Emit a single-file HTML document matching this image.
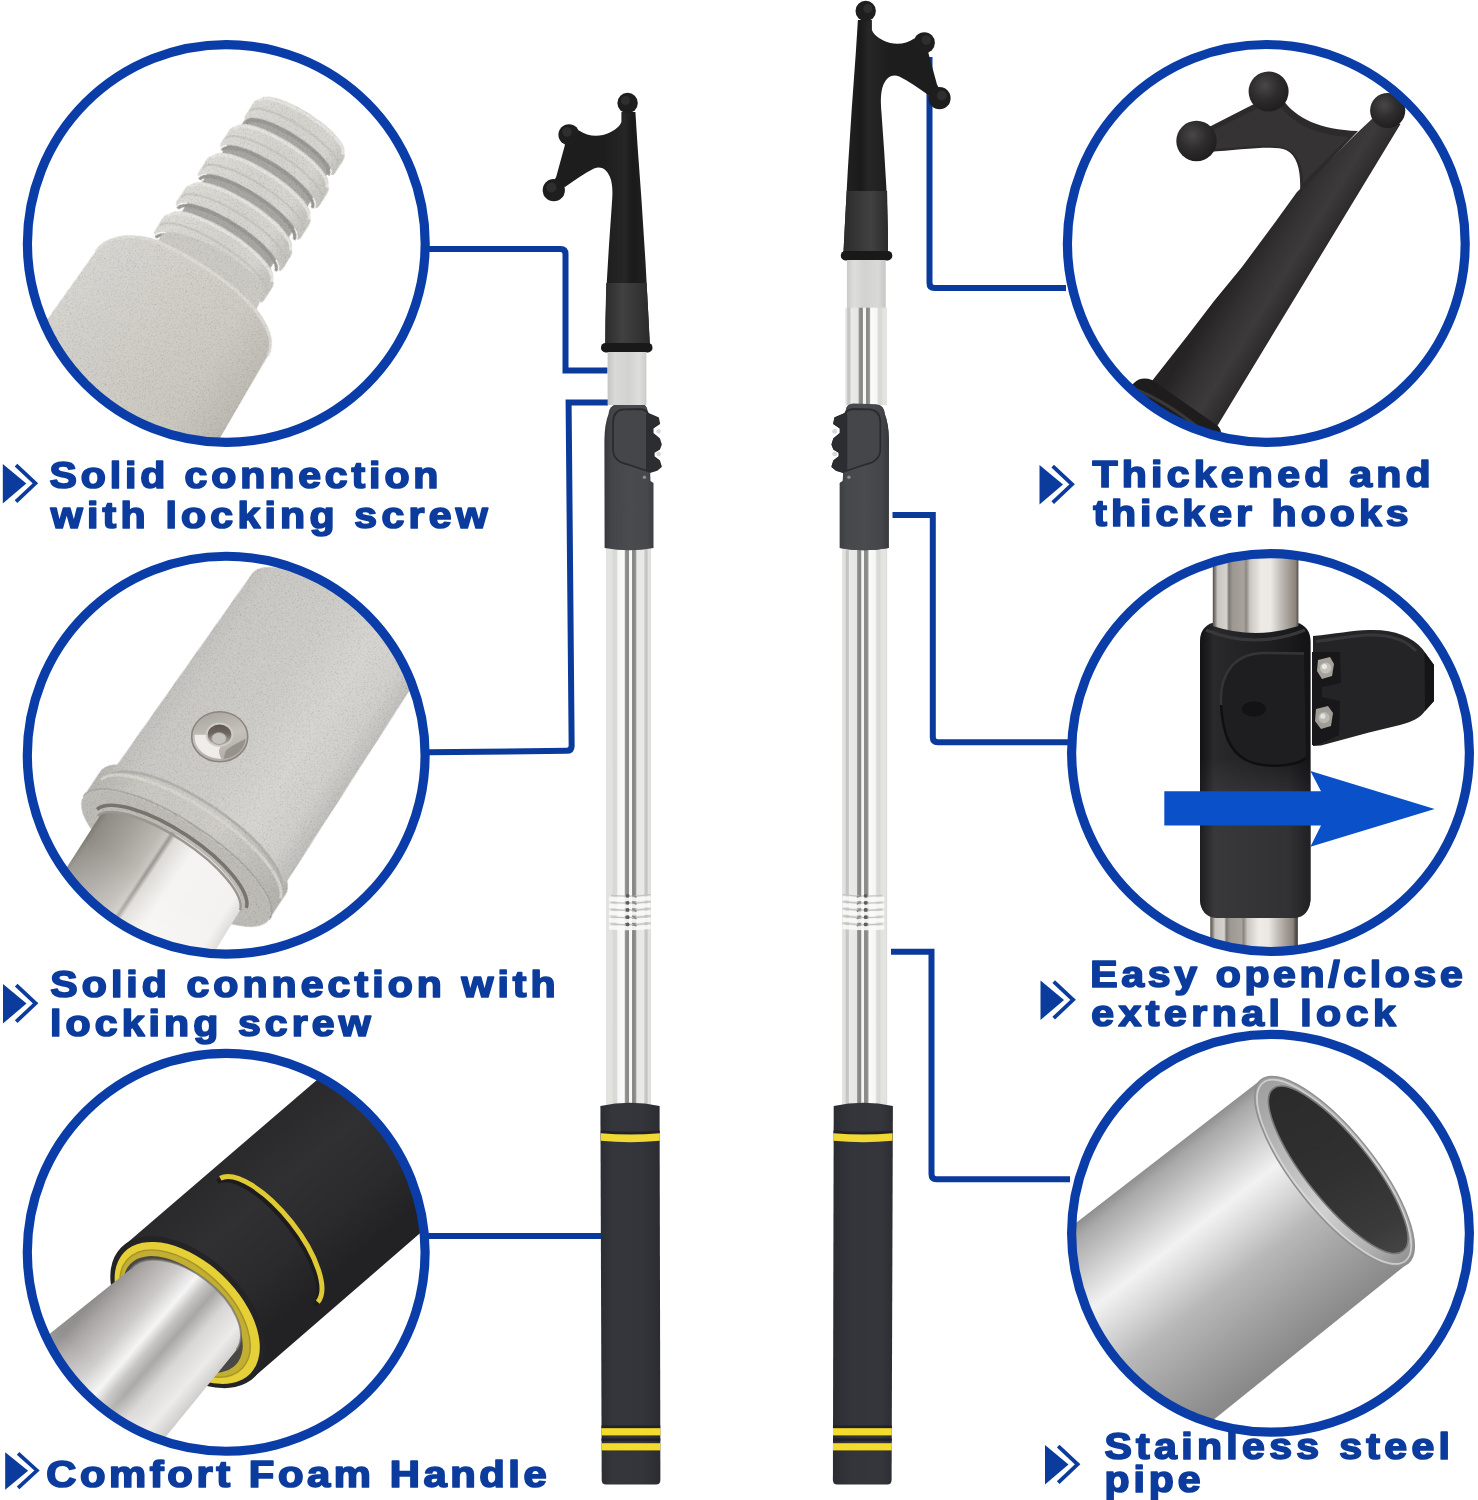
<!DOCTYPE html>
<html>
<head>
<meta charset="utf-8">
<title>Telescoping Boat Hook Features</title>
<style>
html,body{margin:0;padding:0;background:#fff;}
body{width:1478px;height:1500px;overflow:hidden;font-family:"Liberation Sans",sans-serif;}
svg{display:block;}
.t{font-family:"Liberation Sans",sans-serif;font-weight:bold;font-size:37px;fill:#0b3c9d;stroke:#0b3c9d;stroke-width:1.7px;stroke-linejoin:round;}
.ln{fill:none;stroke:#0a3b9c;stroke-width:6;}
.ring{fill:none;stroke:#0b3da8;stroke-width:9.2;}
.ic{fill:#0b3c9d;}
.ics{fill:none;stroke:#0b3c9d;stroke-width:3.8;}
</style>
</head>
<body>
<svg width="1478" height="1500" viewBox="0 0 1478 1500">
<defs>
  <!-- steel pole gradient (left pole x 606.4 - 651.3) -->
  <linearGradient id="gPole" gradientUnits="userSpaceOnUse" x1="606" y1="0" x2="651.6" y2="0">
    <stop offset="0" stop-color="#d2d2cf"/>
    <stop offset="0.03" stop-color="#e4e4e0"/>
    <stop offset="0.13" stop-color="#e2e2de"/>
    <stop offset="0.165" stop-color="#d8d8d4"/>
    <stop offset="0.23" stop-color="#dadad6"/>
    <stop offset="0.263" stop-color="#f6f6f4"/>
    <stop offset="0.40" stop-color="#fbfbf9"/>
    <stop offset="0.425" stop-color="#9a9a98"/>
    <stop offset="0.46" stop-color="#888886"/>
    <stop offset="0.50" stop-color="#8e8e8c"/>
    <stop offset="0.513" stop-color="#f4f4f2"/>
    <stop offset="0.56" stop-color="#f8f8f6"/>
    <stop offset="0.58" stop-color="#8c8c8a"/>
    <stop offset="0.614" stop-color="#838381"/>
    <stop offset="0.654" stop-color="#9a9a98"/>
    <stop offset="0.675" stop-color="#e6e6e4"/>
    <stop offset="0.83" stop-color="#eaeae8"/>
    <stop offset="0.853" stop-color="#c8c8c6"/>
    <stop offset="0.903" stop-color="#c4c4c2"/>
    <stop offset="0.925" stop-color="#e2e2e0"/>
    <stop offset="0.974" stop-color="#e0e0de"/>
    <stop offset="1" stop-color="#cdcdcb"/>
  </linearGradient>
  <linearGradient id="gHook" gradientUnits="userSpaceOnUse" x1="604" y1="0" x2="650" y2="0">
    <stop offset="0" stop-color="#1d1d1e"/>
    <stop offset="0.45" stop-color="#262627"/>
    <stop offset="0.62" stop-color="#1a1a1b"/>
    <stop offset="1" stop-color="#222223"/>
  </linearGradient>
  <linearGradient id="gHookLow" gradientUnits="userSpaceOnUse" x1="604" y1="0" x2="650" y2="0">
    <stop offset="0" stop-color="#2a2a2b"/>
    <stop offset="0.4" stop-color="#414142"/>
    <stop offset="0.6" stop-color="#3a3a3b"/>
    <stop offset="1" stop-color="#2b2b2c"/>
  </linearGradient>
  <linearGradient id="gGrey" gradientUnits="userSpaceOnUse" x1="607" y1="0" x2="647" y2="0">
    <stop offset="0" stop-color="#c4c4c3"/>
    <stop offset="0.2" stop-color="#d9d9d8"/>
    <stop offset="0.55" stop-color="#d2d2d1"/>
    <stop offset="0.8" stop-color="#dededd"/>
    <stop offset="1" stop-color="#c9c9c8"/>
  </linearGradient>
  <linearGradient id="gLock" gradientUnits="userSpaceOnUse" x1="604" y1="0" x2="654" y2="0">
    <stop offset="0" stop-color="#37383b"/>
    <stop offset="0.15" stop-color="#444549"/>
    <stop offset="0.5" stop-color="#4a4b4f"/>
    <stop offset="0.85" stop-color="#47484c"/>
    <stop offset="1" stop-color="#3d3e42"/>
  </linearGradient>
  <linearGradient id="gFoam" gradientUnits="userSpaceOnUse" x1="600" y1="0" x2="661" y2="0">
    <stop offset="0" stop-color="#2c2d33"/>
    <stop offset="0.2" stop-color="#35363c"/>
    <stop offset="0.7" stop-color="#34353b"/>
    <stop offset="1" stop-color="#2b2c31"/>
  </linearGradient>

  <!-- The hook head + grey adapter (left-pole coordinates) -->
  <g id="hook">
    <path d="M621.4,112 L621.4,122 C619,128 612,132.5 603,135 C594,137 586,135 579,130.5
             L565.2,144 L556.3,176.5 L553,183 L565,187
             C575,180 585,173 594,168.5 C602,165.5 608,170 611,180 C613,188 612.5,195 611.8,205
             L609,245 L606.6,285 L605.5,320 L605.3,344 L649.8,344 L648.6,320 L645.5,262 L641.5,200 L637.5,145 L635.4,112 Z" fill="url(#gHook)"/>
    <path d="M606.2,283 L605.5,320 L605.3,344 L649.8,344 L648.6,320 L646.6,283 Z" fill="url(#gHookLow)"/>
    <circle cx="627.6" cy="103" r="10.2" fill="#1e1e1f"/>
    <circle cx="569" cy="134.8" r="10.6" fill="#1e1e1f"/>
    <circle cx="553.8" cy="190.2" r="11.1" fill="#1e1e1f"/>
    <circle cx="625.5" cy="100.5" r="4.5" fill="#2e2e2f"/>
    <circle cx="567" cy="132" r="4.8" fill="#2e2e2f"/>
    <circle cx="551.5" cy="187.5" r="5" fill="#2e2e2f"/>
    <rect x="601" y="343" width="51.5" height="9.4" rx="4.5" fill="#19191a"/>
    <rect x="607.6" y="352" width="38.8" height="53" fill="url(#gGrey)"/>
  </g>

  <!-- lower pole: lock, steel tube, rings, foam handle (left-pole coordinates) -->
  <g id="lower">
    <rect x="606.2" y="545" width="44.8" height="560" fill="url(#gPole)"/>
    <!-- knurl rings -->
    <g fill="none">
      <path d="M609,898.8 Q629,900.4 650.6,898.2" stroke="#fafaf8" stroke-width="4.2" opacity="0.9"/>
      <path d="M609,905.8 Q629,907.4 650.6,905.2" stroke="#fafaf8" stroke-width="4.2" opacity="0.9"/>
      <path d="M609,912.9 Q629,914.5 650.6,912.3" stroke="#fafaf8" stroke-width="4.2" opacity="0.9"/>
      <path d="M609,920.2 Q629,921.8 650.6,919.6" stroke="#fafaf8" stroke-width="4.2" opacity="0.9"/>
      <path d="M609,927.4 Q629,929.0 650.6,926.8" stroke="#fafaf8" stroke-width="4.2" opacity="0.9"/>
      <path d="M611,895.4 Q629,897.2 650.6,894.6" stroke="#c4c4c1" stroke-width="1.3"/>
      <circle cx="627.6" cy="895.8" r="1.9" fill="#5d5d5b"/>
      <path d="M632.5,894.8 L636.5,897.4" stroke="#8a8a88" stroke-width="1.6"/>
      <path d="M611,902.4 Q629,904.2 650.6,901.6" stroke="#c4c4c1" stroke-width="1.3"/>
      <circle cx="627.6" cy="902.8" r="1.9" fill="#5d5d5b"/>
      <path d="M632.5,901.8 L636.5,904.4" stroke="#8a8a88" stroke-width="1.6"/>
      <path d="M611,909.5 Q629,911.3 650.6,908.7" stroke="#c4c4c1" stroke-width="1.3"/>
      <circle cx="627.6" cy="909.9" r="1.9" fill="#5d5d5b"/>
      <path d="M632.5,908.9 L636.5,911.5" stroke="#8a8a88" stroke-width="1.6"/>
      <path d="M611,916.8 Q629,918.6 650.6,916.0" stroke="#c4c4c1" stroke-width="1.3"/>
      <circle cx="627.6" cy="917.2" r="1.9" fill="#5d5d5b"/>
      <path d="M632.5,916.2 L636.5,918.8" stroke="#8a8a88" stroke-width="1.6"/>
      <path d="M611,924.0 Q629,925.8 650.6,923.2" stroke="#c4c4c1" stroke-width="1.3"/>
      <circle cx="627.6" cy="924.4" r="1.9" fill="#5d5d5b"/>
      <path d="M632.5,923.4 L636.5,926.0" stroke="#8a8a88" stroke-width="1.6"/>
    </g>
    <g id="lockonly">
    <!-- lock body -->
    <path d="M608.5,414 Q609,405.5 617,404.3 L640,403.6 Q646.5,404 647.5,410 L650.5,481 L653.5,483 L653.5,548 Q630,552.5 604.6,548 L604.4,440 Q604.6,424 608.5,414 Z" fill="url(#gLock)"/>
    <!-- lever -->
    <path d="M613,422 Q613.2,410 624,409.4 L640,409 Q646,409.5 648.2,413.7 L658.1,418.1 L659.2,423.6 L652.6,428 L652.6,433.5 L659.2,439 L660.9,444.5 L659.2,448.9 L653.7,452.2 L653.7,456.6 L659.2,461 L660.9,466.5 L657,469.8 L650.4,472 L628,464.5 Q613.5,461.5 613,450 Z" fill="#45464a" stroke="#2a2b2e" stroke-width="1.8" stroke-linejoin="round"/>
    <path d="M648.2,413.7 L658.1,418.1 L659.2,423.6 L652.6,428 L652.6,433.5 L659.2,439 L660.9,444.5 L659.2,448.9 L653.7,452.2 L653.7,456.6 L659.2,461 L660.9,466.5 L657,469.8 L650.4,472 L646,470 L646,414 Z" fill="#2c2d30"/>
    <circle cx="658.6" cy="431.2" r="2.3" fill="#d9d9d9"/>
    <circle cx="658.6" cy="454" r="2.3" fill="#d9d9d9"/>
    <circle cx="644.4" cy="477.2" r="1.7" fill="#8d8e91"/>
    </g>
    <!-- foam handle -->
    <path d="M600.4,1106 Q630,1099.5 659.6,1106 L660.4,1480 Q660.4,1484.5 656,1484.5 L606,1484.5 Q601.8,1484.5 601.7,1480 Z" fill="url(#gFoam)"/>
    <path d="M600.8,1130.4 Q630,1133.2 659.8,1130.4 L659.8,1133.4 Q630,1136.2 600.8,1133.4 Z" fill="#222328"/>
    <path d="M600.8,1133.2 Q630,1136 659.8,1133.2 L659.8,1140.8 Q630,1143.6 600.8,1140.8 Z" fill="#f0d835"/>
    <rect x="601.5" y="1425.4" width="58.8" height="2.6" fill="#222328"/>
    <rect x="601.5" y="1428.2" width="58.8" height="7.2" fill="#f5dc2a"/>
    <rect x="601.5" y="1438.4" width="58.8" height="2.4" fill="#1f2025"/>
    <rect x="601.5" y="1443.2" width="58.8" height="7.2" fill="#f5dc2a"/>
  </g>


  <!-- L1 thread gradients (local coords) -->
  <linearGradient id="gBody1" gradientUnits="userSpaceOnUse" x1="-125" y1="0" x2="105" y2="0">
    <stop offset="0" stop-color="#d9d7d2"/>
    <stop offset="0.25" stop-color="#d3d1cc"/>
    <stop offset="0.55" stop-color="#cfccc5"/>
    <stop offset="0.8" stop-color="#cbc8c0"/>
    <stop offset="1" stop-color="#bdbab3"/>
  </linearGradient>
  <linearGradient id="gBody1v" gradientUnits="userSpaceOnUse" x1="0" y1="-30" x2="0" y2="260">
    <stop offset="0" stop-color="#ffffff" stop-opacity="0.10"/>
    <stop offset="0.5" stop-color="#ffffff" stop-opacity="0"/>
    <stop offset="1" stop-color="#b9a97c" stop-opacity="0.22"/>
  </linearGradient>
  <linearGradient id="gRidge" gradientUnits="userSpaceOnUse" x1="-48" y1="0" x2="66" y2="0">
    <stop offset="0" stop-color="#dedcd7"/>
    <stop offset="0.5" stop-color="#d6d4cf"/>
    <stop offset="0.85" stop-color="#d9d7d2"/>
    <stop offset="1" stop-color="#c9c7c2"/>
  </linearGradient>


  <!-- L2 sleeve gradients (local coords) -->
  <linearGradient id="gSleeve" gradientUnits="userSpaceOnUse" x1="-104" y1="0" x2="104" y2="0">
    <stop offset="0" stop-color="#c2c1bd"/>
    <stop offset="0.12" stop-color="#cbcac6"/>
    <stop offset="0.45" stop-color="#cfceca"/>
    <stop offset="0.7" stop-color="#d8d7d3"/>
    <stop offset="0.88" stop-color="#d2d1cd"/>
    <stop offset="1" stop-color="#bfbeba"/>
  </linearGradient>
  <linearGradient id="gCollar" gradientUnits="userSpaceOnUse" x1="-114" y1="0" x2="110" y2="0">
    <stop offset="0" stop-color="#b9b7b2"/>
    <stop offset="0.2" stop-color="#cbc9c4"/>
    <stop offset="0.6" stop-color="#d0cec9"/>
    <stop offset="1" stop-color="#b5b3ae"/>
  </linearGradient>
  <linearGradient id="gTube2" gradientUnits="userSpaceOnUse" x1="-90" y1="0" x2="86" y2="0">
    <stop offset="0" stop-color="#7b7771"/>
    <stop offset="0.04" stop-color="#8f8b85"/>
    <stop offset="0.2" stop-color="#a5a19b"/>
    <stop offset="0.34" stop-color="#bcb8b2"/>
    <stop offset="0.385" stop-color="#c9c6c1"/>
    <stop offset="0.405" stop-color="#9a9691"/>
    <stop offset="0.43" stop-color="#dcdad6"/>
    <stop offset="0.56" stop-color="#f5f4f2"/>
    <stop offset="0.9" stop-color="#f3f2f0"/>
    <stop offset="1" stop-color="#d6d4d0"/>
  </linearGradient>
  <linearGradient id="gTube2fade" gradientUnits="userSpaceOnUse" x1="0" y1="60" x2="0" y2="190">
    <stop offset="0" stop-color="#ffffff" stop-opacity="0"/>
    <stop offset="1" stop-color="#ffffff" stop-opacity="0.55"/>
  </linearGradient>
  <radialGradient id="gScrew" cx="0.45" cy="0.4" r="0.6">
    <stop offset="0" stop-color="#d8d5d0"/>
    <stop offset="0.6" stop-color="#bab6b0"/>
    <stop offset="1" stop-color="#8f8b85"/>
  </radialGradient>


  <!-- L3 foam handle close-up -->
  <linearGradient id="gFoam3" gradientUnits="userSpaceOnUse" x1="230" y1="1150" x2="335" y2="1275">
    <stop offset="0" stop-color="#29292b"/>
    <stop offset="0.35" stop-color="#303033"/>
    <stop offset="0.7" stop-color="#2b2b2e"/>
    <stop offset="1" stop-color="#222224"/>
  </linearGradient>
  <linearGradient id="gTube3" gradientUnits="userSpaceOnUse" x1="88" y1="1306" x2="196" y2="1400">
    <stop offset="0" stop-color="#8d8b89"/>
    <stop offset="0.10" stop-color="#a7a4a2"/>
    <stop offset="0.30" stop-color="#cdcbc9"/>
    <stop offset="0.44" stop-color="#f5f5f5"/>
    <stop offset="0.52" stop-color="#c6c4c2"/>
    <stop offset="0.60" stop-color="#a9a7a5"/>
    <stop offset="0.72" stop-color="#d9d7d5"/>
    <stop offset="0.88" stop-color="#ecebe9"/>
    <stop offset="1" stop-color="#cfcdcb"/>
  </linearGradient>
  <linearGradient id="gTube3fade" gradientUnits="userSpaceOnUse" x1="170" y1="1330" x2="60" y2="1440">
    <stop offset="0" stop-color="#ffffff" stop-opacity="0"/>
    <stop offset="0.5" stop-color="#ffffff" stop-opacity="0.05"/>
    <stop offset="1" stop-color="#ffffff" stop-opacity="0.5"/>
  </linearGradient>


  <!-- R1 big hook -->
  <linearGradient id="gHookBig" gradientUnits="userSpaceOnUse" x1="1228" y1="282" x2="1296" y2="324">
    <stop offset="0" stop-color="#262324"/>
    <stop offset="0.3" stop-color="#353233"/>
    <stop offset="0.55" stop-color="#3d3a3b"/>
    <stop offset="0.8" stop-color="#2e2b2c"/>
    <stop offset="1" stop-color="#242122"/>
  </linearGradient>
  <radialGradient id="gBall" cx="0.4" cy="0.35" r="0.7">
    <stop offset="0" stop-color="#4a4748"/>
    <stop offset="0.5" stop-color="#2f2c2d"/>
    <stop offset="1" stop-color="#1f1c1d"/>
  </radialGradient>


  <!-- R2 lock close-up -->
  <linearGradient id="gTubeR2" gradientUnits="userSpaceOnUse" x1="1212.5" y1="0" x2="1298.5" y2="0">
    <stop offset="0" stop-color="#4a4642"/>
    <stop offset="0.035" stop-color="#8f8a85"/>
    <stop offset="0.06" stop-color="#c9c5c0"/>
    <stop offset="0.165" stop-color="#d5d1cc"/>
    <stop offset="0.19" stop-color="#7d7873"/>
    <stop offset="0.235" stop-color="#9d9892"/>
    <stop offset="0.365" stop-color="#a8a39d"/>
    <stop offset="0.39" stop-color="#8b8680"/>
    <stop offset="0.435" stop-color="#c9c5c0"/>
    <stop offset="0.565" stop-color="#eeebe7"/>
    <stop offset="0.675" stop-color="#ece9e5"/>
    <stop offset="0.805" stop-color="#bdb8b2"/>
    <stop offset="0.895" stop-color="#a09a93"/>
    <stop offset="0.965" stop-color="#8a847d"/>
    <stop offset="1" stop-color="#4e4a46"/>
  </linearGradient>
  <linearGradient id="gLockR2" gradientUnits="userSpaceOnUse" x1="1199" y1="0" x2="1311" y2="0">
    <stop offset="0" stop-color="#151517"/>
    <stop offset="0.12" stop-color="#2a2a2c"/>
    <stop offset="0.35" stop-color="#242426"/>
    <stop offset="0.7" stop-color="#1d1d1f"/>
    <stop offset="1" stop-color="#161618"/>
  </linearGradient>


  <!-- R3 pipe close-up -->
  <linearGradient id="gPipe3" gradientUnits="userSpaceOnUse" x1="1150" y1="1165.5" x2="1294" y2="1351">
    <stop offset="0" stop-color="#8f8f8f"/>
    <stop offset="0.05" stop-color="#a8a8a8"/>
    <stop offset="0.2" stop-color="#d0d0d0"/>
    <stop offset="0.33" stop-color="#f2f2f2"/>
    <stop offset="0.45" stop-color="#d9d9d9"/>
    <stop offset="0.6" stop-color="#b8b8b8"/>
    <stop offset="0.8" stop-color="#a0a0a0"/>
    <stop offset="1" stop-color="#8a8a8a"/>
  </linearGradient>
  <linearGradient id="gPipeRim" gradientUnits="userSpaceOnUse" x1="-119" y1="0" x2="119" y2="0">
    <stop offset="0" stop-color="#9d9d9d"/>
    <stop offset="0.3" stop-color="#b9b9b9"/>
    <stop offset="0.6" stop-color="#d0d0d0"/>
    <stop offset="0.85" stop-color="#b0b0b0"/>
    <stop offset="1" stop-color="#8e8e8e"/>
  </linearGradient>
  <linearGradient id="gPipeIn" gradientUnits="userSpaceOnUse" x1="-100" y1="-20" x2="100" y2="20">
    <stop offset="0" stop-color="#2b2b2b"/>
    <stop offset="0.5" stop-color="#303030"/>
    <stop offset="0.85" stop-color="#3a3a3a"/>
    <stop offset="1" stop-color="#454545"/>
  </linearGradient>


  <!-- cast-metal / foam grain -->
  <filter id="grain" x="-5%" y="-5%" width="110%" height="110%" color-interpolation-filters="sRGB">
    <feTurbulence type="fractalNoise" baseFrequency="0.7" numOctaves="2" seed="7" result="noise"/>
    <feColorMatrix in="noise" type="matrix" values="0.34 0.33 0.33 0 0  0.34 0.33 0.33 0 0  0.34 0.33 0.33 0 0  0 0 0 0 1" result="mono"/>
    <feComponentTransfer in="mono" result="mono2">
      <feFuncR type="linear" slope="0.6" intercept="0.69"/>
      <feFuncG type="linear" slope="0.6" intercept="0.69"/>
      <feFuncB type="linear" slope="0.6" intercept="0.69"/>
    </feComponentTransfer>
    <feBlend in="SourceGraphic" in2="mono2" mode="multiply" result="b"/>
    <feComposite in="b" in2="SourceGraphic" operator="in"/>
  </filter>


  <linearGradient id="gScrewA" x1="0.3" y1="0" x2="0.6" y2="1">
    <stop offset="0" stop-color="#aaa59f"/>
    <stop offset="0.5" stop-color="#c5c1bb"/>
    <stop offset="1" stop-color="#b0aba5"/>
  </linearGradient>
  <linearGradient id="gScrewB" x1="0.5" y1="0" x2="0.5" y2="1">
    <stop offset="0" stop-color="#5e564e"/>
    <stop offset="0.45" stop-color="#6f6860"/>
    <stop offset="1" stop-color="#b9b4ae"/>
  </linearGradient>


  <linearGradient id="gLockR2low" gradientUnits="userSpaceOnUse" x1="0" y1="755" x2="0" y2="800">
    <stop offset="0" stop-color="#454547" stop-opacity="0"/>
    <stop offset="1" stop-color="#454547" stop-opacity="0.55"/>
  </linearGradient>
  <linearGradient id="gLockR2edge" gradientUnits="userSpaceOnUse" x1="1199" y1="0" x2="1311" y2="0">
    <stop offset="0" stop-color="#101012" stop-opacity="0.75"/>
    <stop offset="0.14" stop-color="#101012" stop-opacity="0"/>
    <stop offset="0.8" stop-color="#101012" stop-opacity="0"/>
    <stop offset="1" stop-color="#101012" stop-opacity="0.6"/>
  </linearGradient>

  <!-- circle clips -->
  <clipPath id="cL1"><circle cx="226.3" cy="243.5" r="199.5"/></clipPath>
  <clipPath id="cL2"><circle cx="226.2" cy="755.15" r="199.5"/></clipPath>
  <clipPath id="cL3"><circle cx="226.2" cy="1252.35" r="199.5"/></clipPath>
  <clipPath id="cR1"><circle cx="1266.3" cy="243.4" r="199.5"/></clipPath>
  <clipPath id="cR2"><circle cx="1270.5" cy="752.6" r="199.5"/></clipPath>
  <clipPath id="cR3"><circle cx="1270.5" cy="1233.3" r="199.5"/></clipPath>

  <!-- bullet icon -->
  <g id="bul">
    <path d="M0,0 L0,39.5 L23.5,19.6 Z" class="ic"/>
    <path d="M13.2,1.2 L32.6,19.3 L13.2,37.6" class="ics"/>
  </g>
</defs>

<rect x="0" y="0" width="1478" height="1500" fill="#ffffff"/>

<!-- ============ CALLOUT LINES ============ -->
<path class="ln" d="M428,249 L560.5,249 Q565.5,249 565.5,254 L565.5,370.5 L607.5,370.5"/>
<path class="ln" d="M608,402.5 L568.6,402.5 L571.65,745.8 Q571.7,750.8 566.7,750.85 L428,752.2"/>
<path class="ln" d="M428,1236 L603,1236"/>
<path class="ln" d="M929.5,57 L929.5,283 Q929.5,288 934.5,288 L1066,288"/>
<path class="ln" d="M892.5,515 L932.8,515 L932.8,737.2 Q932.8,742.2 937.8,742.2 L1070,742.2"/>
<path class="ln" d="M891,951.7 L931.5,951.7 L931.5,1174.2 Q931.5,1179.2 936.5,1179.2 L1070,1179.2"/>

<!-- ============ POLES ============ -->
<g id="poleL">
  <use href="#lower"/>
  <use href="#hook"/>
</g>
<g id="poleR" transform="translate(1493.3,0) scale(-1,1)">
  <use href="#lower"/>
  <use href="#hook" transform="translate(0,-92)"/>
  <!-- exposed inner tube -->
  <g transform="translate(-1.6,0)"><rect x="607.9" y="307.7" width="41.6" height="97.5" fill="url(#gPole)"/></g>
  <use href="#lockonly"/>
</g>

<!-- ============ CIRCLE CONTENTS ============ -->
<g id="contL1" clip-path="url(#cL1)">
  <g transform="translate(186.75,287.65) rotate(30)" filter="url(#grain)">
    <!-- threaded stud -->
<g transform="rotate(2.5 12 -110)">
<path d="M-42,-20 L-36,-186 A49,15 0 0 1 62,-186 L66,-20 Z" fill="#aaa8a4"/>
<path d="M-53.0,-44.8 Q-53.0,-50.8 -49.0,-52.3 A61.0,17.6 0 0 1 73.0,-52.3 Q77.0,-50.8 77.0,-44.8 L77.0,-30.8 Q77.0,-26.8 74.0,-26.8 A62.0,17.6 0 0 0 -50.0,-26.8 Q-53.0,-26.8 -53.0,-30.8 Z" fill="url(#gRidge)"/>
<path d="M-49.0,-49.8 A61.0,17.6 0 0 1 73.0,-49.8" fill="none" stroke="#e8e6e1" stroke-width="3"/>
<path d="M-51.0,-36.8 A63.0,17.6 0 0 1 75.0,-36.8" fill="none" stroke="#c4c2bd" stroke-width="2" opacity="0.8"/>
<path d="M-48.0,-24.8 A60.0,17.6 0 0 1 72.0,-24.8" fill="none" stroke="#9b9995" stroke-width="3.5"/>
<path d="M-50.2,-81.2 Q-50.2,-87.2 -46.2,-88.7 A59.0,17.0 0 0 1 71.8,-88.7 Q75.8,-87.2 75.8,-81.2 L75.8,-67.2 Q75.8,-63.2 72.8,-63.2 A60.0,17.0 0 0 0 -47.2,-63.2 Q-50.2,-63.2 -50.2,-67.2 Z" fill="url(#gRidge)"/>
<path d="M-46.2,-86.2 A59.0,17.0 0 0 1 71.8,-86.2" fill="none" stroke="#e8e6e1" stroke-width="3"/>
<path d="M-48.2,-73.2 A61.0,17.0 0 0 1 73.8,-73.2" fill="none" stroke="#c4c2bd" stroke-width="2" opacity="0.8"/>
<path d="M-45.2,-61.2 A58.0,17.0 0 0 1 70.8,-61.2" fill="none" stroke="#9b9995" stroke-width="3.5"/>
<path d="M-47.5,-117.6 Q-47.5,-123.6 -43.5,-125.1 A57.0,16.5 0 0 1 70.5,-125.1 Q74.5,-123.6 74.5,-117.6 L74.5,-103.6 Q74.5,-99.6 71.5,-99.6 A58.0,16.5 0 0 0 -44.5,-99.6 Q-47.5,-99.6 -47.5,-103.6 Z" fill="url(#gRidge)"/>
<path d="M-43.5,-122.6 A57.0,16.5 0 0 1 70.5,-122.6" fill="none" stroke="#e8e6e1" stroke-width="3"/>
<path d="M-45.5,-109.6 A59.0,16.5 0 0 1 72.5,-109.6" fill="none" stroke="#c4c2bd" stroke-width="2" opacity="0.8"/>
<path d="M-42.5,-97.6 A56.0,16.5 0 0 1 69.5,-97.6" fill="none" stroke="#9b9995" stroke-width="3.5"/>
<path d="M-44.2,-154.0 Q-44.2,-160.0 -40.2,-161.5 A54.5,15.8 0 0 1 68.8,-161.5 Q72.8,-160.0 72.8,-154.0 L72.8,-140.0 Q72.8,-136.0 69.8,-136.0 A55.5,15.8 0 0 0 -41.2,-136.0 Q-44.2,-136.0 -44.2,-140.0 Z" fill="url(#gRidge)"/>
<path d="M-40.2,-159.0 A54.5,15.8 0 0 1 68.8,-159.0" fill="none" stroke="#e8e6e1" stroke-width="3"/>
<path d="M-42.2,-146.0 A56.5,15.8 0 0 1 70.8,-146.0" fill="none" stroke="#c4c2bd" stroke-width="2" opacity="0.8"/>
<path d="M-39.2,-134.0 A53.5,15.8 0 0 1 67.8,-134.0" fill="none" stroke="#9b9995" stroke-width="3.5"/>
<path d="M-38.5,-190.4 Q-38.5,-196.4 -34.5,-197.9 A49.5,14.4 0 0 1 64.5,-197.9 Q68.5,-196.4 68.5,-190.4 L68.5,-176.4 Q68.5,-172.4 65.5,-172.4 A50.5,14.4 0 0 0 -35.5,-172.4 Q-38.5,-172.4 -38.5,-176.4 Z" fill="url(#gRidge)"/>
<path d="M-34.5,-195.4 A49.5,14.4 0 0 1 64.5,-195.4" fill="none" stroke="#e8e6e1" stroke-width="3"/>
<path d="M-36.5,-182.4 A51.5,14.4 0 0 1 66.5,-182.4" fill="none" stroke="#c4c2bd" stroke-width="2" opacity="0.8"/>
<path d="M-33.5,-170.4 A48.5,14.4 0 0 1 63.5,-170.4" fill="none" stroke="#9b9995" stroke-width="3.5"/>
</g>

    <!-- neck -->
    <path d="M-48,-34 L-50,-10 L72,-10 L70,-30 A59,17 0 0 0 -48,-34 Z" fill="#cdcbc6"/>
    <!-- main body -->
    <path d="M-97,12 C-96,-4 -78,-22 -45,-27.5 C-12,-31 38,-29 70,-17 C92,-8 103,2 104.5,16 L103,330 L-128,330 L-110,150 Z" fill="url(#gBody1)"/>
    <path d="M-97,12 C-96,-4 -78,-22 -45,-27.5 C-12,-31 38,-29 70,-17 C92,-8 103,2 104.5,16 L103,330 L-128,330 L-110,150 Z" fill="url(#gBody1v)"/>
    <path d="M-97,14 C-96,-2 -78,-20 -45,-25.5 C-12,-29 38,-27 70,-15 C92,-6 103,4 104.5,18" fill="none" stroke="#e2e0db" stroke-width="3" opacity="0.8"/>
  </g>
</g>
<g id="contL2" clip-path="url(#cL2)">
  <g transform="translate(194.5,834.2) rotate(33.5)">
    <!-- collar bottom face (full ellipse) -->
    <g filter="url(#grain)"><ellipse cx="-2" cy="30" rx="111.5" ry="37" fill="#bfbdb8"/></g>
    <!-- steel tube -->
    <path d="M-89,36 A85,29 0 0 1 80,36 L92,400 L-84,400 Z" fill="url(#gTube2)"/>
    <path d="M-89,36 A85,29 0 0 1 80,36 L92,400 L-84,400 Z" fill="url(#gTube2fade)"/>
    <!-- inner rim (dark gap) -->
    <path d="M-95,33 A90,31 0 0 1 84,33" fill="none" stroke="#77736e" stroke-width="3.5"/>
    <path d="M-91,38 A86,29 0 0 1 80,38" fill="none" stroke="#9a9691" stroke-width="2.5"/>
    <g filter="url(#grain)">
    <!-- collar side band -->
    <path d="M-113.5,0 A111.5,37 0 0 1 109.5,0 L109.5,30 A111.5,37 0 0 0 -113.5,30 Z" fill="url(#gCollar)"/>
    <path d="M-113.5,30 A111.5,37 0 0 1 109.5,30" fill="none" stroke="#a9a7a2" stroke-width="2"/>
    <!-- sleeve -->
    <path d="M-103.5,2 L-96,-249 A98,33.5 0 0 1 100,-249 L103.5,2 A103.5,35 0 0 0 -103.5,2 Z" fill="url(#gSleeve)"/>
    <path d="M-103.5,2 A103.5,35 0 0 1 103.5,2" fill="none" stroke="#b3b1ac" stroke-width="2.5"/>
    <path d="M-108,6 A108,36 0 0 1 107,6" fill="none" stroke="#dad8d3" stroke-width="3" opacity="0.9"/>
    </g>
  </g>
  <!-- locking screw -->
  <g transform="translate(219.7,736.7)">
    <ellipse cx="0" cy="0" rx="28" ry="25" fill="url(#gScrewA)"/>
    <ellipse cx="0" cy="0" rx="28" ry="25" fill="none" stroke="#8a857f" stroke-width="1.6"/>
    <path d="M-25,-2 C-26,12 -14,22 2,22 C-2,16 -2,10 6,6 L-10,-2 Z" fill="#f3f1ee" opacity="0.92"/>
    <path d="M4,22 C16,21 25,12 26,2 C18,6 10,10 6,14 Z" fill="#8f8a84" opacity="0.8"/>
    <ellipse cx="-0.2" cy="-2" rx="13.8" ry="12.2" fill="#cfcbc6"/>
    <ellipse cx="-0.2" cy="-2" rx="11.8" ry="10.2" fill="url(#gScrewB)"/>
    <ellipse cx="-0.7" cy="1.8" rx="7.4" ry="6" fill="#c6c2bd"/>
    <ellipse cx="-0.7" cy="1.8" rx="7.4" ry="6" fill="none" stroke="#9c9791" stroke-width="0.8"/>
  </g>
</g>
<g id="contL3" clip-path="url(#cL3)">
  <!-- foam body -->
  <path d="M120.9,1248.2 L360,1043 L470,1190 L254.9,1376.2 Z" fill="url(#gFoam3)"/>
  <!-- end face -->
  <g transform="translate(187.9,1312.2) rotate(43.7)">
    <ellipse cx="0" cy="0" rx="93" ry="56" fill="#242426"/>
    <ellipse cx="0" cy="1" rx="87.5" ry="51.5" fill="#e6d038"/>
    <ellipse cx="-1" cy="3" rx="79" ry="45" fill="#c2ae30"/>
    <ellipse cx="-1" cy="3" rx="79" ry="45" fill="none" stroke="#a8962a" stroke-width="1.5"/>
    <ellipse cx="-2" cy="5" rx="73" ry="40.5" fill="#4a4844"/>
  </g>
  <!-- steel tube -->
  <path d="M130.7,1269 A66.6,37.5 37.4 0 1 236.5,1349.9 L140,1468.4 L20,1357.5 Z" fill="url(#gTube3)"/>
  <path d="M130.7,1269 A66.6,37.5 37.4 0 1 236.5,1349.9 L140,1468.4 L20,1357.5 Z" fill="url(#gTube3fade)"/>
  <path d="M130.7,1269 A66.6,37.5 37.4 0 1 236.5,1349.9" fill="none" stroke="#6f6d6a" stroke-width="2" opacity="0.7"/>
  <!-- yellow stripe -->
  <path d="M217.5,1181.5 A79,31 51.8 0 1 315,1305.3" fill="none" stroke="#1c1c1e" stroke-width="5"/>
  <path d="M220.3,1178.3 A79,31 51.8 0 1 317.8,1302.1" fill="none" stroke="#e0ca34" stroke-width="5"/>
</g>
<g id="contR1" clip-path="url(#cR1)">
  <!-- shaft -->
  <path d="M1373,118 L1357,133 L1297,192 L1276.6,220.3 L1242,267 L1213.7,301.5 L1187.3,336 L1148,386 L1210,438 L1400.5,124 Z" fill="url(#gHookBig)"/>
  <!-- web -->
  <path d="M1209,127 L1256,103 L1283,100 C1296,118 1320,130 1358,131 L1300,192 C1301,172 1298,156 1286,150 C1274,145 1240,150 1209,152 Z" fill="#2d2a2b"/>
  <path d="M1214,130 L1257,108.5 L1280,106 C1294,124 1316,135 1349,137 L1303,183 C1303,168 1299,155 1288,149 C1276,143 1242,147 1214,149 Z" fill="#363334"/>
  <!-- flange at bottom -->
  <path d="M1134,383 Q1141,376 1152,380 L1218,426 Q1224,432 1219,439 L1205,452 L1118,397 Z" fill="#1f1c1d"/>
  <path d="M1132,388 Q1170,402 1213,440" fill="none" stroke="#3a3738" stroke-width="3"/>
  <!-- balls -->
  <circle cx="1268.6" cy="91.5" r="20" fill="url(#gBall)"/>
  <circle cx="1196.5" cy="141" r="20.2" fill="url(#gBall)"/>
  <circle cx="1387.7" cy="110.5" r="17.6" fill="url(#gBall)"/>
</g>
<g id="contR2" clip-path="url(#cR2)">
  <!-- tube above and below -->
  <g transform="translate(-2.5,0)"><rect x="1212.8" y="905" width="87.6" height="60" fill="url(#gTubeR2)"/></g>
  <!-- lever (open) -->
  <path d="M1313,636 C1335,634 1352,630.5 1369,630 C1392,629 1412,636 1422.5,649 L1434,665 L1434,701 L1425,711 C1420,718 1412,722 1400,725 L1369,732.5 L1321,745.5 L1313,746 Z" fill="#242426"/>
  <path d="M1424.5,652 L1434,665 L1434,701 L1425,711 Z" fill="#151517"/>
  <path d="M1316,641.5 C1338,639 1352,635.5 1369,635 C1390,634.5 1406,640 1416,651" fill="none" stroke="#37373a" stroke-width="3"/>
  <!-- lock body -->
  <path d="M1200,642 Q1200,626 1214,622.5 Q1255,616 1296,622.5 Q1310.5,626 1310.5,642 L1310.5,900 Q1309,916 1295,918 L1216,918 Q1201,916 1200,900 Z" fill="url(#gLockR2)"/>
  <path d="M1200,760 L1310.5,760 L1310.5,900 Q1309,916 1295,918 L1216,918 Q1201,916 1200,900 Z" fill="url(#gLockR2low)"/>
  <path d="M1200,642 Q1200,626 1214,622.5 Q1255,616 1296,622.5 Q1310.5,626 1310.5,642 L1310.5,900 Q1309,916 1295,918 L1216,918 Q1201,916 1200,900 Z" fill="url(#gLockR2edge)" opacity="0.8"/>
  <!-- tube entering collar -->
  <path d="M1212.8,540 L1212.8,626 Q1255,640 1298.4,626 L1298.4,540 Z" fill="url(#gTubeR2)"/>
  <path d="M1206,630 Q1255,650 1305,630" fill="none" stroke="#38383a" stroke-width="3"/>
  <!-- hinge block with pins -->
  <path d="M1312,652 L1340,652 L1341,683 L1322,687 L1322,697 L1340,701 L1339,735 L1318,745 L1312,745 Z" fill="#18181a"/>
  <path d="M1318,660 L1330,657 L1334,664 L1332,676 L1322,679 L1317,671 Z" fill="#a5a19b"/>
  <circle cx="1325.6" cy="668" r="5.6" fill="#c4c0ba"/>
  <circle cx="1324.4" cy="666.6" r="2.6" fill="#ebe9e5"/>
  <path d="M1316,709 L1328,706 L1333,713 L1331,726 L1321,729 L1315,721 Z" fill="#a09c96"/>
  <circle cx="1324" cy="717.6" r="5.6" fill="#bcb8b2"/>
  <circle cx="1322.8" cy="716.2" r="2.6" fill="#e4e2de"/>
  <!-- pivot bulge -->
  <path d="M1221,705 C1219,672 1236,654 1262,653 L1304,653.5 L1306,758 C1292,768 1262,768 1246,760 C1230,751 1223,735 1221,705 Z" fill="#1e1e20"/>
  <path d="M1221,705 C1219,672 1236,654 1262,653 L1304,653.5" fill="none" stroke="#353537" stroke-width="2.5"/>
  <path d="M1221,705 C1223,735 1230,751 1246,760 C1262,768 1292,768 1306,758" fill="none" stroke="#0f0f11" stroke-width="2.5"/>
  <ellipse cx="1254" cy="709" rx="12" ry="7.5" fill="#131315"/>
  <!-- arrow -->
  <path d="M1164.3,791.3 L1321,791.3 L1310.4,771 L1434.7,808.9 L1310.4,846.8 L1321,825.5 L1164.3,825.5 Z" fill="#0a50c8"/>
</g>
<g id="contR3" clip-path="url(#cR3)">
  <path d="M1261,1079.8 L1040,1250.6 L1180,1446.8 L1408,1263.2 Z" fill="url(#gPipe3)"/>
  <g transform="translate(1334.5,1171.5) rotate(51.3)">
    <ellipse cx="0" cy="0" rx="117.5" ry="40" fill="url(#gPipeRim)"/>
    <ellipse cx="0" cy="0" rx="117.5" ry="40" fill="none" stroke="#8f8f8f" stroke-width="1.5"/>
    <ellipse cx="0" cy="0.5" rx="114" ry="37.5" fill="none" stroke="#dedede" stroke-width="1.6" opacity="0.75"/>
    <ellipse cx="1" cy="-4" rx="104" ry="32" fill="url(#gPipeIn)"/>
    <ellipse cx="1" cy="-4" rx="104" ry="32" fill="none" stroke="#777777" stroke-width="1.6"/>
  </g>
</g>

<!-- ============ CIRCLE RINGS ============ -->
<circle class="ring" cx="226.3" cy="243.5" r="198.9"/>
<circle class="ring" cx="226.2" cy="755.15" r="198.9"/>
<circle class="ring" cx="226.2" cy="1252.35" r="198.9"/>
<circle class="ring" cx="1266.3" cy="243.4" r="198.9"/>
<circle class="ring" cx="1270.5" cy="752.6" r="198.9"/>
<circle class="ring" cx="1270.5" cy="1233.3" r="198.9"/>

<!-- ============ LABELS ============ -->
<use href="#bul" x="2.8" y="464"/>
<text class="t" transform="translate(49.5,488.3) scale(1.11,1)" textLength="350.4" lengthAdjust="spacing">Solid connection</text>
<text class="t" transform="translate(50.8,527.5) scale(1.11,1)" textLength="393.6" lengthAdjust="spacing">with locking screw</text>

<use href="#bul" x="3" y="984"/>
<text class="t" transform="translate(50.3,997.0) scale(1.11,1)" textLength="455.3" lengthAdjust="spacing">Solid connection with</text>
<text class="t" transform="translate(50.1,1035.6) scale(1.11,1)" textLength="288.8" lengthAdjust="spacing">locking screw</text>

<use href="#bul" transform="translate(5.2,1452.2) scale(0.975,0.95)"/>
<text class="t" transform="translate(46.3,1487.1) scale(1.13,1)" textLength="442.9" lengthAdjust="spacing">Comfort Foam Handle</text>

<use href="#bul" x="1039.5" y="465"/>
<text class="t" transform="translate(1092.4,486.5) scale(1.11,1)" textLength="304.7" lengthAdjust="spacing">Thickened and</text>
<text class="t" transform="translate(1093.2,525.5) scale(1.11,1)" textLength="284.2" lengthAdjust="spacing">thicker hooks</text>

<use href="#bul" x="1040.5" y="980.5"/>
<text class="t" transform="translate(1090.3,986.5) scale(1.11,1)" textLength="335.6" lengthAdjust="spacing">Easy open/close</text>
<text class="t" transform="translate(1091.3,1026.1) scale(1.11,1)" textLength="274.3" lengthAdjust="spacing">external lock</text>

<use href="#bul" x="1045" y="1445"/>
<text class="t" transform="translate(1104.4,1458.9) scale(1.11,1)" textLength="311.3" lengthAdjust="spacing">Stainless steel</text>
<text class="t" transform="translate(1104.5,1492.4) scale(1.11,1)" textLength="86.6" lengthAdjust="spacing">pipe</text>
</svg>
</body>
</html>
